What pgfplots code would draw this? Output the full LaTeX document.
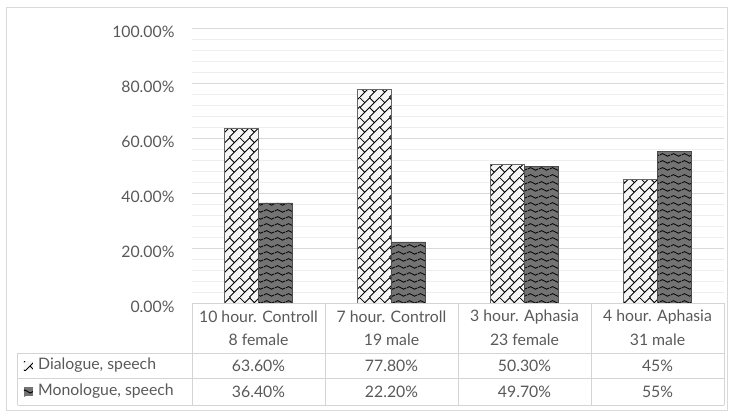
\documentclass[border=0pt]{standalone}
\usepackage{pgfplots}
\pgfplotsset{compat=1.18}
\usepackage{fontspec}
\setmainfont{Lato}
\usetikzlibrary{patterns.meta}
\definecolor{txt}{HTML}{595959}
\definecolor{gridmaj}{HTML}{D9D9D9}
\definecolor{gridmin}{HTML}{EEEEEE}
\definecolor{tbl}{HTML}{D4D4D4}

\tikzdeclarepattern{
  name=diagbricks,
  type=uncolored,
  bounding box={(0pt,0pt) and (20pt,20pt)},
  tile size={(20pt,20pt)},
  code={
    \draw[line width=0.9pt] (-1pt,-1pt)--(21pt,21pt) (-1pt,9pt)--(11pt,21pt) (9pt,-1pt)--(21pt,11pt)
      (0pt,10pt)--(5pt,5pt) (10pt,20pt)--(15pt,15pt)
      (10pt,10pt)--(15pt,5pt) (0pt,20pt)--(5pt,15pt);
  }
}
\tikzdeclarepattern{
  name=waves,
  type=uncolored,
  bounding box={(0pt,0pt) and (11pt,7pt)},
  tile size={(11pt,7pt)},
  code={\draw[line width=0.9pt] (-0.2pt,3.5pt) -- (0pt,3.5pt) sin (2.75pt,5pt) cos (5.5pt,3.5pt) sin (8.25pt,2pt) cos (11pt,3.5pt) -- (11.2pt,3.5pt);}
}

\begin{document}
\begin{tikzpicture}[font=\fontsize{15.8}{18}\selectfont]
\path[use as bounding box] (-192pt,-113pt) rectangle (541pt,303pt);
\draw[gray!30, line width=1pt] (-185pt,296pt) rectangle (535pt,-107pt);
\begin{axis}[
  at={(0pt,0pt)}, anchor=south west,
  scale only axis, width=532pt, height=275pt,
  xmin=-0.5, xmax=3.5, ymin=0, ymax=100,
  axis line style={draw=none},
  xtick=\empty,
  ytick={0,20,...,100},
  minor ytick={4,8,...,96},
  ymajorgrids, yminorgrids,
  major grid style={gridmaj, line width=1pt},
  minor grid style={gridmin, line width=1pt},
  tick style={draw=none},
  /pgf/number format/assume math mode=true,
  yticklabel={\pgfmathprintnumber[fixed,fixed zerofill,precision=2]{\tick}\%},
  yticklabel style={text=txt, font=\fontsize{15.8}{18}\selectfont, yshift=-4pt, xshift=-14pt},
  clip=false,
]
\addplot[ybar, bar width=0.256, bar shift=-0.128, draw=black!60, line width=0.6pt, fill=gray!8, postaction={pattern=diagbricks}]
  coordinates {(0,63.6) (1,77.8) (2,50.3) (3,45)};
\addplot[ybar, bar width=0.256, bar shift=0.128, draw=black!70, line width=0.6pt, fill=black!55, postaction={pattern=waves}]
  coordinates {(0,36.4) (1,22.2) (2,49.7) (3,55)};
\end{axis}
% data table
\begin{scope}[tbl, line width=1pt]
\draw (0pt,0pt) -- (532pt,0pt);
\draw (-174pt,-50pt) -- (532pt,-50pt);
\draw (-174pt,-75pt) -- (532pt,-75pt);
\draw (-174pt,-102pt) -- (532pt,-102pt);
\foreach \x in {0,133,266,399,532} \draw (\x pt,0pt) -- (\x pt,-102pt);
\draw (-174pt,-50pt) -- (-174pt,-102pt);
\end{scope}
\begin{scope}[text=txt]
\node at (66.5pt,-14pt) {10 hour. Controll};
\node at (66.5pt,-37pt) {8 female};
\node at (199.5pt,-14pt) {7 hour. Controll};
\node at (199.5pt,-37pt) {19 male};
\node at (332.5pt,-14pt) {3 hour. Aphasia};
\node at (332.5pt,-37pt) {23 female};
\node at (465.5pt,-14pt) {4 hour. Aphasia};
\node at (465.5pt,-37pt) {31 male};
\node at (66.5pt,-62.5pt) {63.60\%};
\node at (199.5pt,-62.5pt) {77.80\%};
\node at (332.5pt,-62.5pt) {50.30\%};
\node at (465.5pt,-62.5pt) {45\%};
\node at (66.5pt,-88.5pt) {36.40\%};
\node at (199.5pt,-88.5pt) {22.20\%};
\node at (332.5pt,-88.5pt) {49.70\%};
\node at (465.5pt,-88.5pt) {55\%};
\node[anchor=west, inner sep=0pt] at (-154pt,-62.5pt) {Dialogue, speech};
\node[anchor=west, inner sep=0pt] at (-154pt,-88.5pt) {Monologue, speech};
\end{scope}
\fill[gray!8] (-168pt,-67pt) rectangle (-159pt,-58pt);
\fill[pattern=diagbricks] (-168pt,-67pt) rectangle (-159pt,-58pt);
\fill[black!55] (-168pt,-93pt) rectangle (-159pt,-84pt);
\fill[pattern=waves] (-168pt,-93pt) rectangle (-159pt,-84pt);
\end{tikzpicture}
\end{document}
